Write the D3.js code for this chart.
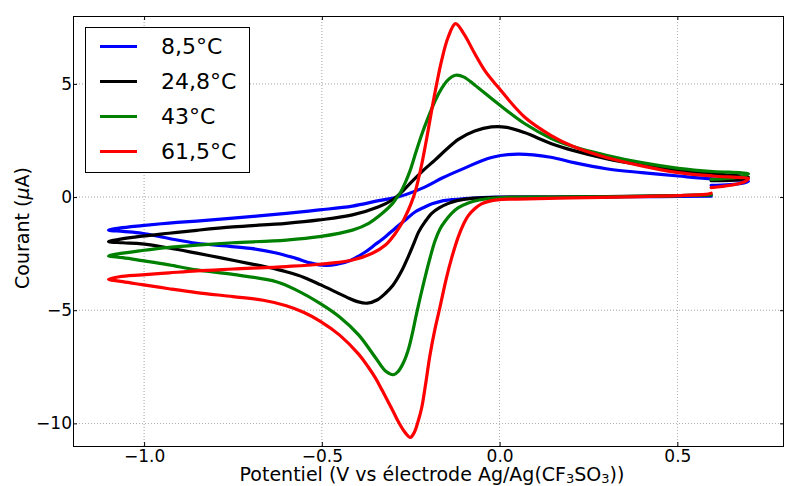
<!DOCTYPE html>
<html><head><meta charset="utf-8">
<script src="https://cdn.jsdelivr.net/npm/d3@7"></script>
<style>
body{margin:0;background:#fff;}
svg{display:block;font-family:"DejaVu Sans",sans-serif;}
</style></head>
<body><svg id="chart" width="785" height="486"></svg>
<script>
// ---- data (potential V, current µA) ----
const seriesNames = ["8,5°C", "24,8°C", "43°C", "61,5°C"];
const seriesColors = ["#0000ff", "#000000", "#008000", "#ff0000"];
const xTicks = [-1.0, -0.5, 0.0, 0.5];
const yTicks = [5, 0, -5, -10];

const v85 = [0.595,0.45,0.30,0.15,0.0,-0.05,-0.10,-0.13,-0.163,-0.19,-0.209,-0.237,-0.265,-0.295,-0.321,-0.35,-0.38,-0.42,-0.46,-0.49,-0.53,-0.573,-0.628,-0.70,-0.78,-0.852,-0.93,-1.006,-1.06,-1.10,-1.07,-1.006,-0.93,-0.852,-0.75,-0.6,-0.507,-0.414,-0.34,-0.284,-0.209,-0.16,-0.11,-0.023,0.051,0.144,0.209,0.30,0.40,0.503,0.60,0.68,0.70,0.68,0.595];
const i85 = [0.04,0.02,0.01,0.0,0.0,-0.02,-0.07,-0.11,-0.18,-0.30,-0.43,-0.65,-1.01,-1.40,-1.75,-2.10,-2.45,-2.80,-2.98,-3.02,-2.92,-2.71,-2.47,-2.27,-2.15,-2.04,-1.83,-1.60,-1.52,-1.46,-1.37,-1.26,-1.15,-1.06,-0.93,-0.72,-0.57,-0.40,-0.16,0.01,0.45,0.85,1.20,1.75,1.90,1.76,1.52,1.25,1.08,0.93,0.80,0.74,0.70,0.60,0.52];

const v248 = [0.595,0.45,0.30,0.15,0.0,-0.079,-0.12,-0.144,-0.17,-0.191,-0.21,-0.228,-0.24,-0.256,-0.275,-0.30,-0.321,-0.345,-0.372,-0.40,-0.424,-0.46,-0.503,-0.55,-0.60,-0.628,-0.70,-0.78,-0.852,-0.93,-1.006,-1.06,-1.10,-1.07,-1.006,-0.93,-0.852,-0.75,-0.6,-0.507,-0.414,-0.34,-0.302,-0.279,-0.247,-0.214,-0.182,-0.15,-0.116,-0.07,-0.023,0.02,0.07,0.144,0.209,0.30,0.40,0.503,0.60,0.68,0.70,0.68,0.595];
const i248 = [0.10,0.05,0.02,0.0,-0.01,-0.06,-0.16,-0.28,-0.48,-0.72,-1.10,-1.55,-2.00,-2.60,-3.25,-3.90,-4.25,-4.55,-4.69,-4.62,-4.47,-4.20,-3.88,-3.55,-3.30,-3.19,-2.95,-2.70,-2.48,-2.25,-2.07,-2.02,-1.97,-1.87,-1.73,-1.60,-1.47,-1.32,-1.16,-1.01,-0.79,-0.43,-0.13,0.16,0.68,1.19,1.63,2.10,2.55,2.92,3.10,3.08,2.85,2.37,2.05,1.70,1.42,1.19,1.02,0.93,0.88,0.78,0.72];

const v43 = [0.595,0.45,0.30,0.15,0.0,-0.061,-0.09,-0.116,-0.135,-0.154,-0.168,-0.182,-0.195,-0.209,-0.222,-0.235,-0.245,-0.256,-0.27,-0.285,-0.298,-0.32,-0.349,-0.396,-0.45,-0.503,-0.573,-0.628,-0.75,-0.852,-0.93,-1.006,-1.06,-1.10,-1.07,-1.006,-0.93,-0.852,-0.75,-0.6,-0.507,-0.414,-0.368,-0.33,-0.302,-0.29,-0.279,-0.265,-0.251,-0.237,-0.22,-0.20,-0.18,-0.163,-0.145,-0.124,-0.10,-0.07,-0.005,0.07,0.144,0.209,0.30,0.40,0.503,0.60,0.68,0.70,0.68,0.595];
const i43 = [0.10,0.04,0.01,0.0,-0.03,-0.14,-0.27,-0.47,-0.72,-1.08,-1.42,-1.95,-2.65,-3.50,-4.35,-5.25,-6.00,-6.70,-7.30,-7.70,-7.85,-7.70,-7.10,-6.10,-5.30,-4.72,-4.10,-3.74,-3.42,-3.22,-3.00,-2.81,-2.68,-2.60,-2.50,-2.36,-2.22,-2.12,-2.02,-1.90,-1.75,-1.46,-1.16,-0.72,-0.30,-0.05,0.20,0.65,1.20,1.90,2.72,3.55,4.30,4.80,5.18,5.38,5.30,4.95,4.13,3.25,2.60,2.22,1.85,1.52,1.27,1.13,1.07,1.03,0.90,0.78];

const v615 = [0.595,0.58,0.50,0.40,0.20,0.05,0.0,-0.025,-0.051,-0.07,-0.088,-0.10,-0.116,-0.135,-0.15,-0.168,-0.182,-0.196,-0.208,-0.219,-0.23,-0.24,-0.251,-0.265,-0.284,-0.30,-0.33,-0.349,-0.37,-0.396,-0.45,-0.503,-0.55,-0.60,-0.665,-0.75,-0.852,-0.93,-1.006,-1.06,-1.10,-1.07,-1.006,-0.93,-0.852,-0.75,-0.6,-0.507,-0.414,-0.358,-0.321,-0.293,-0.275,-0.265,-0.256,-0.247,-0.237,-0.228,-0.219,-0.205,-0.191,-0.177,-0.163,-0.145,-0.124,-0.10,-0.07,-0.04,-0.005,0.07,0.144,0.209,0.30,0.40,0.503,0.60,0.68,0.70,0.69,0.65,0.595];
const i615 = [0.17,0.12,0.06,0.02,-0.04,-0.09,-0.11,-0.17,-0.30,-0.52,-0.82,-1.15,-1.75,-2.70,-3.60,-4.88,-5.85,-7.00,-8.25,-9.30,-9.95,-10.40,-10.62,-10.42,-9.95,-9.45,-8.55,-8.00,-7.50,-6.95,-6.10,-5.50,-5.10,-4.80,-4.56,-4.40,-4.22,-4.05,-3.87,-3.74,-3.63,-3.52,-3.44,-3.35,-3.26,-3.18,-3.07,-2.97,-2.78,-2.48,-2.12,-1.60,-1.16,-0.85,-0.55,-0.20,0.25,0.82,1.45,2.60,3.84,5.00,6.04,7.05,7.66,7.20,6.34,5.55,4.87,3.54,2.73,2.22,1.75,1.38,1.08,0.93,0.86,0.82,0.68,0.52,0.42];

const seriesV = [v85, v248, v43, v615];
const seriesI = [i85, i248, i43, i615];

// ---- layout ----
const W = 785, H = 486;
const m = {left: 73, right: 1, top: 16, bottom: 40};
const pw = W - m.left - m.right, ph = H - m.top - m.bottom;

const svg = d3.select("#chart");
const x = d3.scaleLinear().domain([-1.2, 0.8]).range([m.left, m.left + pw]);
const y = d3.scaleLinear().domain([-11, 8]).range([m.top + ph, m.top]);

// grid
const grid = svg.append("g");
xTicks.forEach(t => grid.append("line").attr("x1", x(t)).attr("x2", x(t)).attr("y1", m.top).attr("y2", m.top + ph)
  .attr("stroke", "#000").attr("stroke-width", 0.6).attr("stroke-dasharray", "1,2").attr("opacity", 0.6));
yTicks.forEach(t => grid.append("line").attr("y1", y(t)).attr("y2", y(t)).attr("x1", m.left).attr("x2", m.left + pw)
  .attr("stroke", "#000").attr("stroke-width", 0.6).attr("stroke-dasharray", "1,2").attr("opacity", 0.6));

// curves
svg.append("defs").append("clipPath").attr("id", "clip").append("rect")
  .attr("x", m.left).attr("y", m.top).attr("width", pw).attr("height", ph);
const line = d3.line().x(d => x(d[0])).y(d => y(d[1])).curve(d3.curveCatmullRom.alpha(0.5));
const curves = svg.append("g").attr("clip-path", "url(#clip)");
seriesV.forEach((vs, k) => {
  const pts = vs.map((v, j) => [v, seriesI[k][j]]);
  curves.append("path").attr("d", line(pts)).attr("fill", "none")
    .attr("stroke", seriesColors[k]).attr("stroke-width", 3.2)
    .attr("stroke-linejoin", "round").attr("stroke-linecap", "round");
});

// axes
const fmtX = d3.format(".1f"), fmtY = d3.format("d");
const ax = svg.append("g").attr("transform", `translate(0,${m.top + ph})`)
  .call(d3.axisBottom(x).tickValues(xTicks).tickFormat(fmtX).tickSizeInner(-4).tickSizeOuter(0).tickPadding(4));
const ay = svg.append("g").attr("transform", `translate(${m.left},0)`)
  .call(d3.axisLeft(y).tickValues(yTicks).tickFormat(fmtY).tickSizeInner(-4).tickSizeOuter(0).tickPadding(1));
const axT = svg.append("g").attr("transform", `translate(0,${m.top})`)
  .call(d3.axisTop(x).tickValues(xTicks).tickFormat("").tickSizeInner(-4).tickSizeOuter(0));
const ayR = svg.append("g").attr("transform", `translate(${m.left + pw},0)`)
  .call(d3.axisRight(y).tickValues(yTicks).tickFormat("").tickSizeInner(-4).tickSizeOuter(0));
[ax, ay, axT, ayR].forEach(g => {
  g.select(".domain").remove();
  g.selectAll("line").attr("stroke", "#000");
  g.selectAll("text").attr("font-family", "DejaVu Sans").attr("font-size", 17).attr("fill", "#000");
});
svg.append("rect").attr("x", m.left + 0.5).attr("y", m.top + 0.5).attr("width", pw - 1).attr("height", ph)
  .attr("fill", "none").attr("stroke", "#000").attr("stroke-width", 1);

// axis labels
const xl = svg.append("text").attr("x", 432).attr("y", 481)
  .attr("text-anchor", "middle").attr("font-size", 19).attr("fill", "#000");
xl.append("tspan").text("Potentiel (V vs électrode Ag/Ag(CF");
xl.append("tspan").attr("font-size", 13).attr("dy", 2).text("3");
xl.append("tspan").attr("dy", -2).text("SO");
xl.append("tspan").attr("font-size", 13).attr("dy", 2).text("3");
xl.append("tspan").attr("dy", -2).text("))");

const yl = svg.append("text").attr("transform", `translate(29,228) rotate(-90)`)
  .attr("text-anchor", "middle").attr("font-size", 19).attr("fill", "#000");
yl.append("tspan").text("Courant (");
yl.append("tspan").attr("font-style", "italic").text("μ");
yl.append("tspan").text("A)");

// legend
const lg = svg.append("g");
lg.append("rect").attr("x", 85.5).attr("y", 27.5).attr("width", 164).attr("height", 145)
  .attr("fill", "#fff").attr("stroke", "#000").attr("stroke-width", 1);
seriesNames.forEach((n, k) => {
  const ry = 46.5 + k * 35;
  lg.append("line").attr("x1", 100).attr("x2", 137).attr("y1", ry).attr("y2", ry)
    .attr("stroke", seriesColors[k]).attr("stroke-width", 3.2);
  lg.append("text").attr("x", 161).attr("y", ry).attr("dy", "0.36em")
    .attr("font-size", 22).attr("fill", "#000").text(n);
});
</script></body></html>
